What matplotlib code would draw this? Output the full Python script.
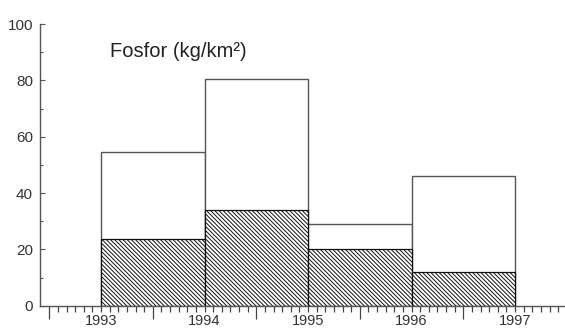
import numpy as np
import matplotlib
matplotlib.use("Agg")
import matplotlib.pyplot as plt
from matplotlib.ticker import FixedLocator, FuncFormatter

plt.rcParams["font.family"] = ["Liberation Sans", "DejaVu Sans"]
plt.rcParams["hatch.linewidth"] = 0.7

# Phosphorus load per year (kg/km2): total and hatched share
years = [1993, 1994, 1995, 1996]
total = [54.5, 80.5, 29.0, 46.2]
part = [23.6, 34.0, 20.0, 12.0]
y_ticks = [0, 20, 40, 60, 80, 100]
title = "Fosfor (kg/km²)"

W, H = 565, 328
fig = plt.figure(figsize=(W / 100, H / 100), dpi=100)
ax = fig.add_axes([40 / W, 22.3 / H, 525 / W, 281.7 / H])

ink = "#333333"
ax.bar(years, total, width=1.0, align="edge", color="white",
       edgecolor="#555555", linewidth=1.0, zorder=2)
ax.bar(years, part, width=1.0, align="edge", color="white",
       edgecolor="#111111", hatch="\\" * 8, linewidth=0.9, zorder=3)

ax.set_xlim(1992.41, 1992.41 + 525 / 103.5)
ax.set_ylim(0, 100)

for s in ("top", "right"):
    ax.spines[s].set_visible(False)
for s in ("left", "bottom"):
    ax.spines[s].set_color("#555555")
    ax.spines[s].set_linewidth(1.0)
    ax.spines[s].set_zorder(4)

# y axis: inward ticks every 20, minor every 10
ax.set_yticks(y_ticks)
ax.yaxis.set_minor_locator(FixedLocator(np.arange(10, 100, 20)))
ax.tick_params(axis="y", which="major", direction="in", length=3.6, width=0.8,
               color="#555555", labelsize=11, labelcolor=ink, pad=5)
ax.tick_params(axis="y", which="minor", direction="in", length=2.2, width=0.8,
               color="#555555")

# x axis: long ticks at mid-year, monthly ticks, year labels at year starts
ax.xaxis.set_major_locator(FixedLocator(np.arange(1992.5, 1998.0, 1.0)))
ax.xaxis.set_major_formatter(FuncFormatter(lambda v, p: ""))
months = np.arange(1992.5, 1997.5 + 1e-6, 1 / 12)
ax.xaxis.set_minor_locator(FixedLocator(months))
ax.xaxis.set_minor_formatter(FuncFormatter(
    lambda v, p: f"{int(round(v))}" if abs(v - round(v)) < 1e-6 else ""))
ax.tick_params(axis="x", which="major", direction="out", length=9, width=0.9,
               color="#444444")
ax.tick_params(axis="x", which="minor", direction="out", length=4.3, width=0.9,
               color="#444444", labelsize=10.5, labelcolor=ink, pad=1.8)

ax.text(0.133, 0.883, title, transform=ax.transAxes, fontsize=14.5,
        color="#222222", ha="left", va="baseline")

fig.savefig("out.png", dpi=100)
